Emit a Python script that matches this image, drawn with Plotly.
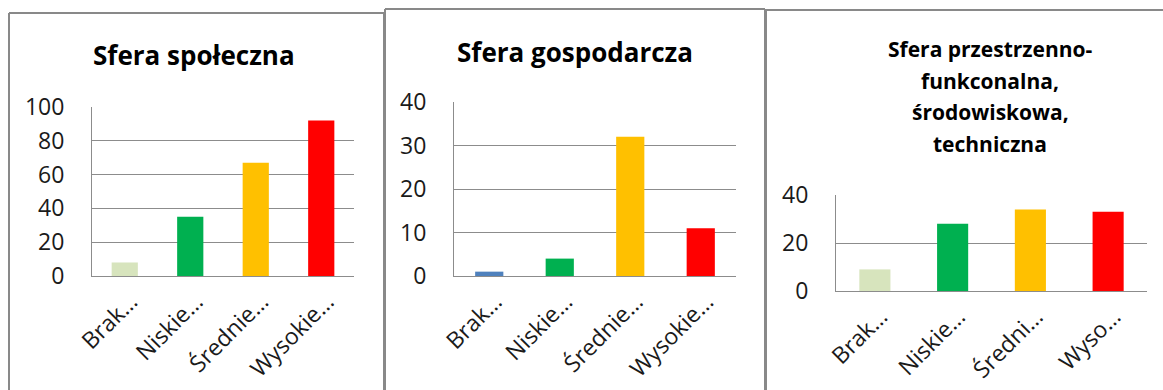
import plotly.graph_objects as go

# Category labels (as shown, truncated) and values for each sphere
cats_a = ["Brak…", "Niskie…", "Średnie…", "Wysokie…"]
cats_c = ["Brak…", "Niskie…", "Średni…", "Wyso…"]
vals_spoleczna = [8, 35, 67, 92]
vals_gospodarcza = [1, 4, 32, 11]
vals_przestrzenna = [9, 28, 34, 33]

colors_spoleczna = ["#D7E4BD", "#00B050", "#FFC000", "#FF0000"]
colors_gospodarcza = ["#4F81BD", "#00B050", "#FFC000", "#FF0000"]
colors_przestrzenna = ["#D7E4BD", "#00B050", "#FFC000", "#FF0000"]

W, H = 1163, 390
FONT = "Open Sans"
GRID = "#8C8C8C"
TEXT = "#1A1A1A"


def px(x):
    return x / W


def py(y):
    return 1 - y / H


fig = go.Figure()

panels = [
    ("", cats_a, vals_spoleczna, colors_spoleczna, (92, 354), (107, 276), 100, 20),
    ("2", cats_a, vals_gospodarcza, colors_gospodarcza, (454, 736), (102, 276), 40, 10),
    ("3", cats_c, vals_przestrzenna, colors_przestrzenna, (836, 1147), (195, 291), 40, 20),
]

for suffix, cats, vals, cols, (x0, x1), (ytop, ybot), ymax, dt in panels:
    fig.add_trace(go.Bar(
        x=cats, y=vals, marker=dict(color=cols, line=dict(width=0)),
        width=0.4, xaxis="x" + suffix, yaxis="y" + suffix, showlegend=False,
    ))
    fig.layout["xaxis" + suffix] = dict(
        domain=[px(x0), px(x1)], anchor="y" + suffix, automargin=False,
        tickangle=-45, showline=True, linecolor=GRID, linewidth=1,
        showgrid=False, tickfont=dict(family=FONT, size=23, color=TEXT),
        ticks="", ticklabelshift=6, ticklabelstandoff=2, fixedrange=True,
    )
    fig.layout["yaxis" + suffix] = dict(
        domain=[py(ybot), py(ytop)], anchor="x" + suffix, automargin=False,
        range=[0, ymax], dtick=dt, showline=True, linecolor=GRID, linewidth=1,
        showgrid=True, gridcolor=GRID, gridwidth=1, zeroline=False,
        tickfont=dict(family=FONT, size=23, color=TEXT),
        ticklabelstandoff=22, ticks="", fixedrange=True,
    )

# Panel frames: left, top and right edges
border = dict(color="#898989", width=2)
frames = [
    (9, 384, 13, True),
    (385, 765, 9, True),
    (766, 1170, 10, False),
]
for x0, x1, yt, right in frames:
    fig.add_shape(type="line", xref="paper", yref="paper",
                  x0=px(x0), x1=px(x0), y0=py(yt), y1=-0.1, line=border)
    fig.add_shape(type="line", xref="paper", yref="paper",
                  x0=px(x0), x1=px(x1), y0=py(yt), y1=py(yt), line=border)
    if right:
        fig.add_shape(type="line", xref="paper", yref="paper",
                      x0=px(x1), x1=px(x1), y0=py(yt), y1=-0.1, line=border)

# Panel titles
titles = [
    ("Sfera społeczna", 194, 55, 26),
    ("Sfera gospodarcza", 575, 52, 26),
]
for text, cx, cy, size in titles:
    fig.add_annotation(text=f"<b>{text}</b>", xref="paper", yref="paper",
                       x=px(cx), y=py(cy), xanchor="center", yanchor="middle",
                       showarrow=False, font=dict(family=FONT, size=size, color="#000000"))

title3 = ["Sfera przestrzenno-", "funkconalna,", "środowiskowa,", "techniczna"]
for i, line in enumerate(title3):
    fig.add_annotation(text=f"<b>{line}</b>", xref="paper", yref="paper",
                       x=px(990), y=py(49 + i * 31.7), xanchor="center", yanchor="middle",
                       showarrow=False, font=dict(family=FONT, size=21, color="#000000"))

fig.update_layout(
    template="none",
    width=W, height=H, margin=dict(l=0, r=0, t=0, b=0, autoexpand=False),
    paper_bgcolor="white", plot_bgcolor="white",
    font=dict(family=FONT), bargap=0.6,
)

fig.write_html("out.html", config={"displayModeBar": False})
